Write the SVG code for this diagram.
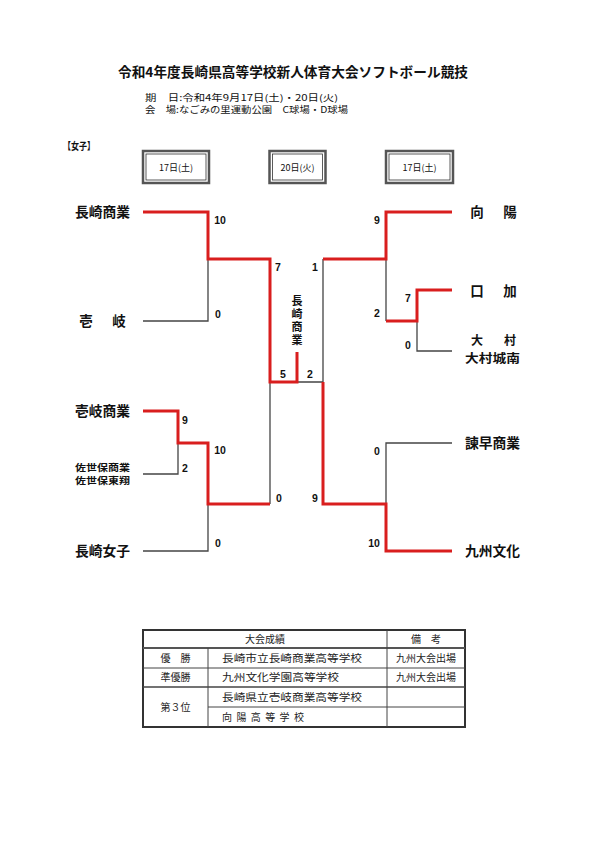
<svg xmlns="http://www.w3.org/2000/svg" width="595" height="842" viewBox="0 0 595 842">
<style>
.bg{fill:#fff}
.t{font-family:"Noto Sans CJK JP","Liberation Sans",sans-serif;fill:#111}
.b{font-weight:bold}
.nm{font-size:13.5px;font-weight:bold}
.sc{font-family:"Liberation Sans",Arial,sans-serif;font-weight:bold;font-size:10.5px;fill:#111;text-anchor:middle}
.red{fill:none;stroke:#d91e1e;stroke-width:3;stroke-linejoin:miter}
.gry{fill:none;stroke:#444;stroke-width:1.3}
.cell{font-family:"Noto Sans CJK JP","Liberation Sans",sans-serif;font-size:10px;fill:#222}
.mid{text-anchor:middle}
</style>
<rect class="bg" x="0" y="0" width="595" height="842"/>
<g id="header">
<text class="t b" x="118" y="77" font-size="13.5" textLength="350" lengthAdjust="spacingAndGlyphs">令和4年度長崎県高等学校新人体育大会ソフトボール競技</text>
<text class="t" x="145" y="100.5" font-size="8.8" textLength="193" lengthAdjust="spacingAndGlyphs">期　日:令和4年9月17日(土)・20日(火)</text>
<text class="t" x="145" y="113" font-size="8.8" textLength="203" lengthAdjust="spacingAndGlyphs">会　場:なごみの里運動公園　C球場・D球場</text>
<text class="t b" x="63" y="150" font-size="10" textLength="32" lengthAdjust="spacingAndGlyphs">【女子】</text>
</g>
<g id="date1">
<rect x="143" y="151" width="66" height="32" fill="#fff" stroke="#555" stroke-width="2.5"/>
<rect x="146" y="154" width="60" height="26" fill="none" stroke="#333" stroke-width="0.8"/>
<text class="t mid" x="176" y="170.5" font-size="9">17日(土)</text>
</g>
<g id="date2">
<rect x="269.5" y="151" width="56" height="32" fill="#fff" stroke="#555" stroke-width="2.5"/>
<rect x="272.5" y="154" width="50" height="26" fill="none" stroke="#333" stroke-width="0.8"/>
<text class="t mid" x="297.5" y="170.5" font-size="9">20日(火)</text>
</g>
<g id="date3">
<rect x="386" y="151" width="67" height="32" fill="#fff" stroke="#555" stroke-width="2.5"/>
<rect x="389" y="154" width="61" height="26" fill="none" stroke="#333" stroke-width="0.8"/>
<text class="t mid" x="419.5" y="170.5" font-size="9">17日(土)</text>
</g>
<g id="connectors">
<path class="gry" d="M143,321 H208 V259"/>
<path class="gry" d="M143,474 H178 V443"/>
<path class="gry" d="M143,551 H208 V504"/>
<path class="gry" d="M270,382 V504"/>
<path class="gry" d="M297,382 H323 V259"/>
<path class="gry" d="M386,259 V321"/>
<path class="gry" d="M417,321 V351 H452"/>
<path class="gry" d="M452,443 H386 V504"/>
<path class="red" d="M143,212 H208 V259 H270 V382 H297 V352"/>
<path class="red" d="M143,411 H178 V443 H208 V504 H270"/>
<path class="red" d="M452,212 H386 V259 H323"/>
<path class="red" d="M452,290 H417 V321 H386"/>
<path class="red" d="M323,382 V504 H386 V551 H452"/>
</g>
<g id="scores">
<text class="sc" x="220" y="224">10</text>
<text class="sc" x="218" y="318">0</text>
<text class="sc" x="278" y="271">7</text>
<text class="sc" x="315" y="271">1</text>
<text class="sc" x="185" y="424">9</text>
<text class="sc" x="185" y="472">2</text>
<text class="sc" x="220" y="454">10</text>
<text class="sc" x="218" y="547">0</text>
<text class="sc" x="283" y="378">5</text>
<text class="sc" x="310" y="378">2</text>
<text class="sc" x="279" y="502">0</text>
<text class="sc" x="315" y="502">9</text>
<text class="sc" x="377" y="224">9</text>
<text class="sc" x="408" y="302">7</text>
<text class="sc" x="377" y="317">2</text>
<text class="sc" x="408" y="349">0</text>
<text class="sc" x="377" y="455">0</text>
<text class="sc" x="374" y="547">10</text>
</g>
<g id="champion">
<text class="t b" font-size="11" x="297" y="295" writing-mode="vertical-rl" letter-spacing="2">長崎商業</text>
</g>
<g id="team-nagasakishogyo"><text class="t nm" x="75" y="217" textLength="55" lengthAdjust="spacingAndGlyphs">長崎商業</text></g>
<g id="team-iki"><text class="t nm mid" x="86 119" y="326">壱岐</text></g>
<g id="team-ikishogyo"><text class="t nm" x="75" y="416" textLength="55" lengthAdjust="spacingAndGlyphs">壱岐商業</text></g>
<g id="team-sasebo">
<text class="t b" font-size="9.5" x="75" y="470.5" textLength="55" lengthAdjust="spacingAndGlyphs">佐世保商業</text>
<text class="t b" font-size="9.5" x="75" y="484" textLength="55" lengthAdjust="spacingAndGlyphs">佐世保東翔</text>
</g>
<g id="team-nagasakijoshi"><text class="t nm" x="75" y="556" textLength="55" lengthAdjust="spacingAndGlyphs">長崎女子</text></g>
<g id="team-koyo"><text class="t nm mid" x="477 510" y="217">向陽</text></g>
<g id="team-kuchinotsu"><text class="t nm mid" x="477 510" y="296">口加</text></g>
<g id="team-omura">
<text class="t b mid" font-size="12" x="477 510" y="345">大村</text>
<text class="t b" font-size="12" x="465" y="363" textLength="55" lengthAdjust="spacingAndGlyphs">大村城南</text>
</g>
<g id="team-isahaya"><text class="t nm" x="465" y="448" textLength="55" lengthAdjust="spacingAndGlyphs">諫早商業</text></g>
<g id="team-kyushubunka"><text class="t nm" x="465" y="556" textLength="55" lengthAdjust="spacingAndGlyphs">九州文化</text></g>
<g id="results-table">
<rect x="143" y="630" width="322" height="97" fill="none" stroke="#333" stroke-width="2"/>
<line x1="143" y1="648" x2="465" y2="648" stroke="#555" stroke-width="2"/>
<line x1="143" y1="668" x2="465" y2="668" stroke="#444" stroke-width="1"/>
<line x1="143" y1="687" x2="465" y2="687" stroke="#444" stroke-width="1.6"/>
<line x1="208" y1="707" x2="465" y2="707" stroke="#444" stroke-width="1"/>
<line x1="208" y1="648" x2="208" y2="727" stroke="#444" stroke-width="1"/>
<line x1="387" y1="630" x2="387" y2="727" stroke="#444" stroke-width="1"/>
<text class="cell mid" x="265" y="643">大会成績</text>
<text class="cell mid" x="426" y="643">備　考</text>
<text class="cell mid" x="175.5" y="662">優　勝</text>
<text class="cell" x="222" y="662" textLength="140" lengthAdjust="spacingAndGlyphs">長崎市立長崎商業高等学校</text>
<text class="cell mid" x="426" y="662">九州大会出場</text>
<text class="cell mid" x="175.5" y="681">準優勝</text>
<text class="cell" x="222" y="681" textLength="117" lengthAdjust="spacingAndGlyphs">九州文化学園高等学校</text>
<text class="cell mid" x="426" y="681">九州大会出場</text>
<text class="cell mid" x="175.5" y="711">第３位</text>
<text class="cell" x="222" y="701" textLength="140" lengthAdjust="spacingAndGlyphs">長崎県立壱岐商業高等学校</text>
<text class="cell" x="222" y="721" textLength="82" lengthAdjust="spacing">向 陽 高 等 学 校</text>
</g>
</svg>
